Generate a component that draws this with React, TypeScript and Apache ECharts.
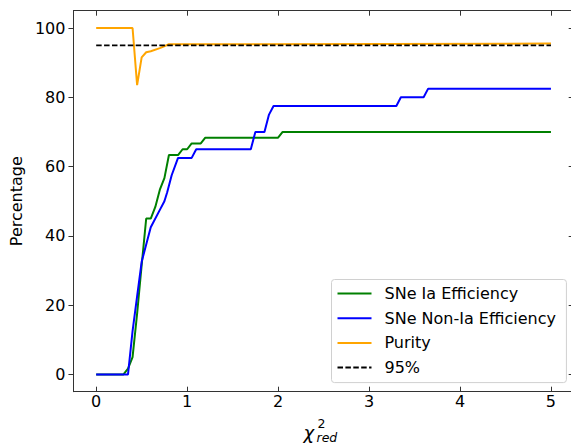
import React, { useEffect, useRef } from "react";
import * as echarts from "echarts";

// SNe Ia efficiency (%)
const iaX = [0, 0.3, 0.35, 0.4, 0.45, 0.5, 0.55, 0.6, 0.65, 0.7, 0.75, 0.8, 0.9, 0.95, 1.0, 1.05, 1.15, 1.2, 2.0, 2.05, 5.0];
const iaY = [0, 0, 1.67, 5, 17.5, 31.5, 45, 45, 48.33, 53.33, 56.67, 63.33, 63.33, 65, 65, 66.67, 66.67, 68.33, 68.33, 70, 70];

// SNe Non-Ia efficiency (%)
const nonIaX = [0, 0.35, 0.4, 0.45, 0.5, 0.55, 0.6, 0.7, 0.75, 0.78, 0.83, 0.9, 1.05, 1.1, 1.7, 1.75, 1.85, 1.9, 1.95, 3.3, 3.35, 3.6, 3.65, 5.0];
const nonIaY = [0, 0, 12.5, 22.5, 32.5, 37.5, 42.5, 47.5, 50, 52.5, 57.5, 62.5, 62.5, 65, 65, 70, 70, 75, 77.5, 77.5, 80, 80, 82.5, 82.5];

// Purity (%)
const purityX = [0, 0.4, 0.45, 0.5, 0.55, 0.6, 0.7, 0.8, 5.0];
const purityY = [100, 100, 83.5, 91.5, 93, 93.3, 94.2, 95.3, 95.5];

const refLevel = 95;

const xTicks = [0, 1, 2, 3, 4, 5];
const yTicks = [0, 20, 40, 60, 80, 100];

const seriesNames = ["SNe Ia Efficiency", "SNe Non-Ia Efficiency", "Purity", "95%"];

const pairs = (xs: number[], ys: number[]) => xs.map((x, i) => [x, ys[i]]);

export default function App() {
  const ref = useRef<HTMLDivElement>(null);
  useEffect(() => {
    const chart = echarts.init(ref.current!, null, { renderer: "svg" });
    const font = "DejaVu Sans";
    const axisColor = "#333";
    const xBase = {
      type: "value",
      min: -0.25,
      max: 5.25,
      splitLine: { show: false },
      axisLine: { show: true, onZero: false, lineStyle: { color: axisColor, width: 1 } },
    };
    const yBase = {
      type: "value",
      min: -5,
      max: 105,
      splitLine: { show: false },
      axisLine: { show: true, onZero: false, lineStyle: { color: axisColor, width: 1 } },
    };
    chart.setOption({
      animation: false,
      backgroundColor: "#ffffff",
      textStyle: { fontFamily: font },
      grid: { left: 71.7, top: 10.7, width: 502, height: 381 },
      xAxis: [
        {
          ...xBase,
          position: "bottom",
          axisTick: { show: true, inside: true, length: 5, customValues: xTicks, lineStyle: { color: axisColor } },
          axisLabel: { customValues: xTicks, fontSize: 16, color: "#000", margin: 2, fontFamily: font },
        },
        {
          ...xBase,
          position: "top",
          axisTick: { show: true, inside: true, length: 5, customValues: xTicks, lineStyle: { color: axisColor } },
          axisLabel: { show: false },
        },
      ],
      yAxis: [
        {
          ...yBase,
          position: "left",
          axisTick: { show: true, inside: false, length: 5, customValues: yTicks, lineStyle: { color: axisColor } },
          axisLabel: { customValues: yTicks, fontSize: 16, color: "#000", margin: 8, fontFamily: font },
          name: "Percentage",
          nameLocation: "middle",
          nameGap: 46,
          nameTextStyle: { fontSize: 16, color: "#000", fontFamily: font },
        },
        {
          ...yBase,
          position: "right",
          axisTick: { show: true, inside: true, length: 5, customValues: yTicks, lineStyle: { color: axisColor } },
          axisLabel: { show: false },
        },
      ],
      legend: {
        data: seriesNames,
        orient: "vertical",
        left: 331.5,
        top: 279.5,
        padding: [6, 10.5, 7, 5],
        itemWidth: 34,
        itemHeight: 14,
        itemGap: 8.7,
        selectedMode: false,
        itemStyle: { opacity: 0 },
        borderColor: "#d0d0d0",
        borderWidth: 1,
        borderRadius: 3,
        backgroundColor: "rgba(255,255,255,0.85)",
        textStyle: { fontSize: 16, color: "#000", fontFamily: font, padding: [0, 0, 0, 8] },
      },
      graphic: [
        {
          type: "group",
          children: [
            { type: "text", x: 303.5, y: 432, style: { text: "χ", font: "italic 18px 'DejaVu Sans'", fill: "#000", verticalAlign: "middle" } },
            { type: "text", x: 317.5, y: 423.5, style: { text: "2", font: "12.5px 'DejaVu Sans'", fill: "#000", verticalAlign: "middle" } },
            { type: "text", x: 316.5, y: 437, style: { text: "red", font: "italic 12.5px 'DejaVu Sans'", fill: "#000", verticalAlign: "middle" } },
          ],
        },
      ],
      series: [
        {
          name: seriesNames[0],
          type: "line",
          symbol: "none",
          data: pairs(iaX, iaY),
          lineStyle: { color: "#008000", width: 2 },
          itemStyle: { color: "#008000" },
        },
        {
          name: seriesNames[1],
          type: "line",
          symbol: "none",
          data: pairs(nonIaX, nonIaY),
          lineStyle: { color: "#0000ff", width: 2 },
          itemStyle: { color: "#0000ff" },
        },
        {
          name: seriesNames[2],
          type: "line",
          symbol: "none",
          data: pairs(purityX, purityY),
          lineStyle: { color: "#ffa500", width: 2 },
          itemStyle: { color: "#ffa500" },
        },
        {
          name: seriesNames[3],
          type: "line",
          symbol: "none",
          data: [
            [xTicks[0], refLevel],
            [xTicks[xTicks.length - 1], refLevel],
          ],
          lineStyle: { color: "#000000", width: 1.6, type: [5.5, 2.4] },
          itemStyle: { color: "#000000" },
        },
      ],
    });
    return () => chart.dispose();
  }, []);
  return (
    <div style={{ position: "fixed", left: 0, top: 0, width: 571, height: 445, overflow: "hidden", background: "#fff" }}>
      <div ref={ref} style={{ width: 580, height: 445 }} />
    </div>
  );
}
